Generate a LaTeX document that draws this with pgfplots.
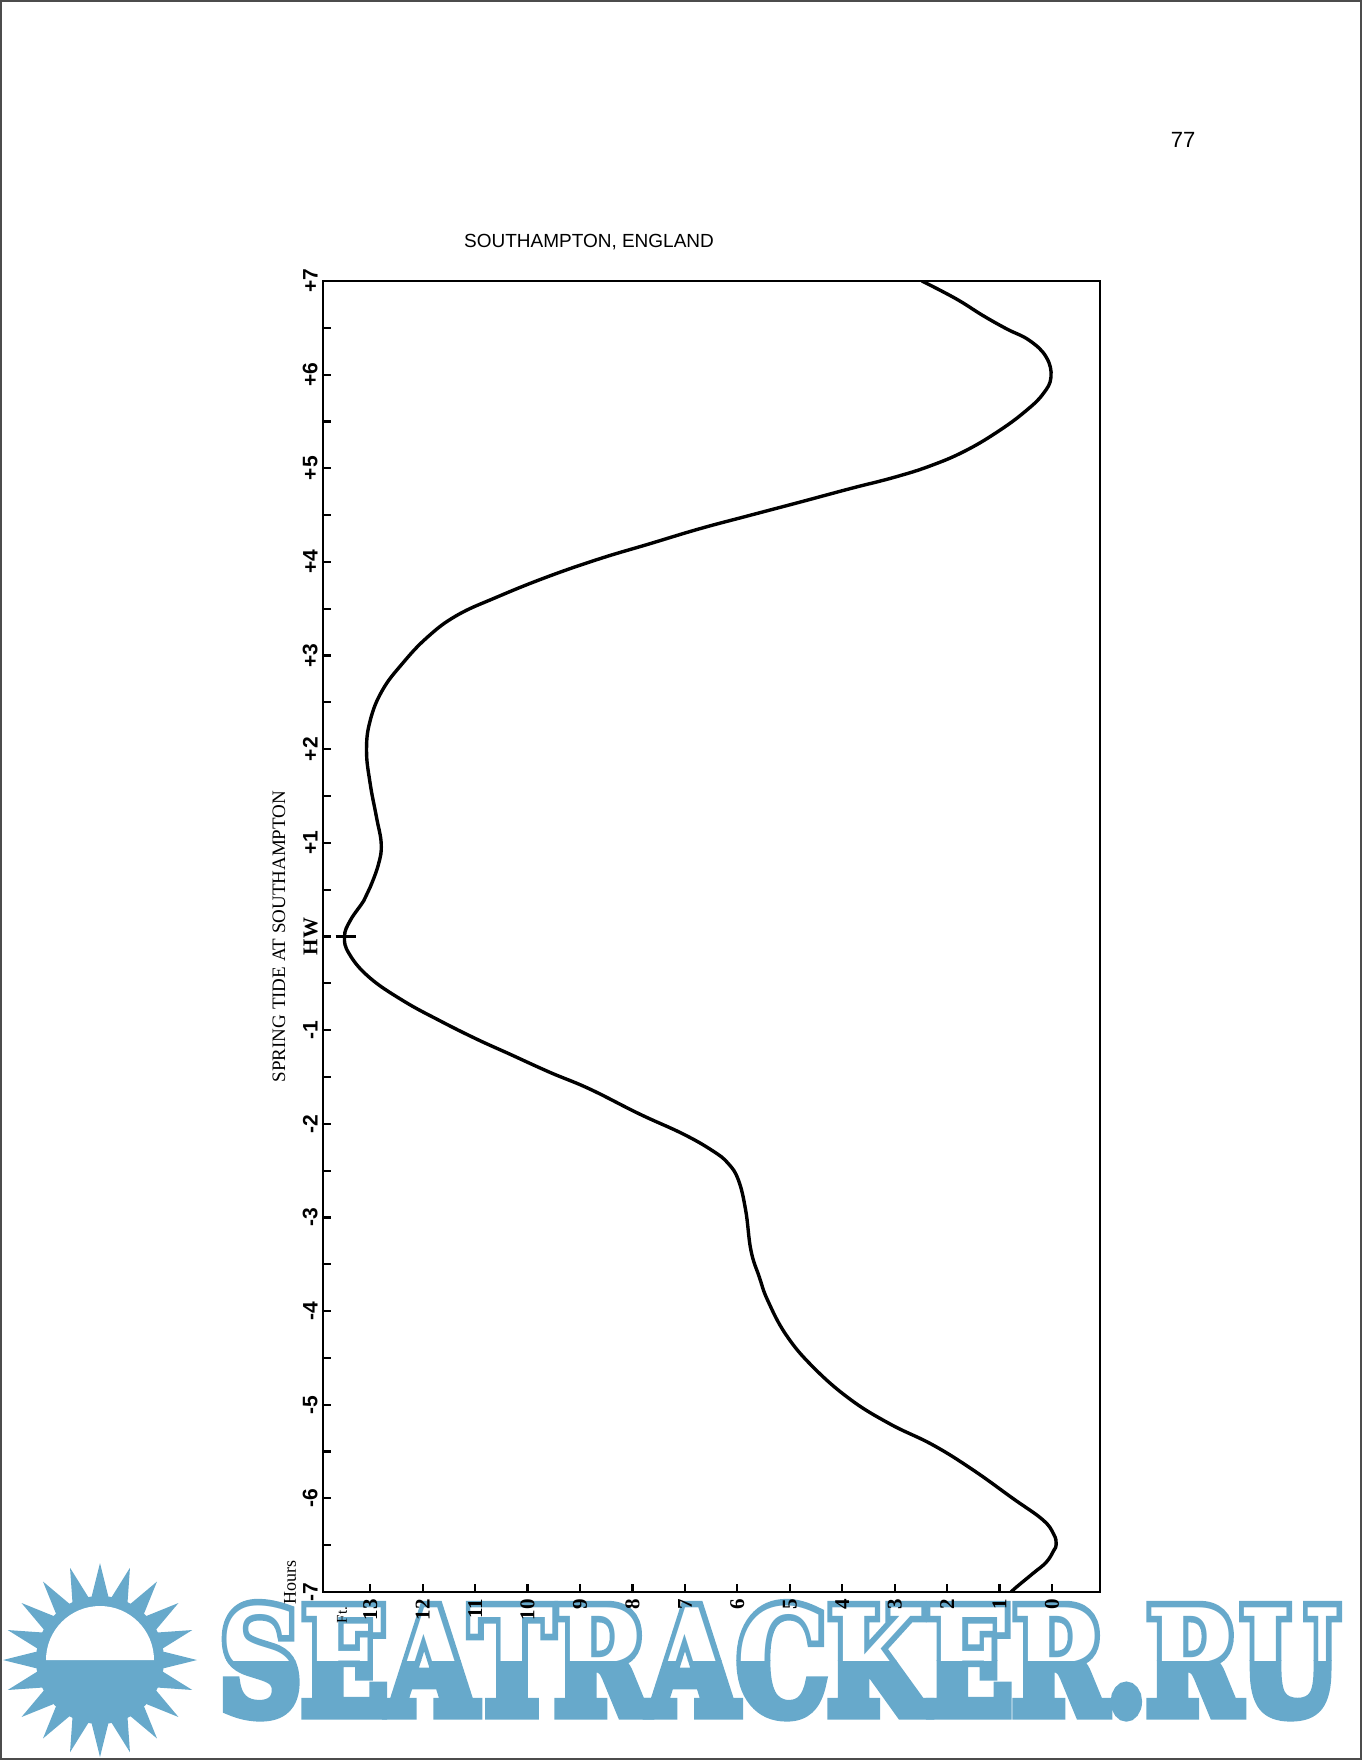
\documentclass[border=0pt]{standalone}
\usepackage{fontspec}
\setmainfont{Liberation Serif}
\newfontfamily\arial{Liberation Sans}
\newfontfamily\wmfill{DejaVu Serif Bold}
\newfontfamily\wmline[FakeBold=9]{DejaVu Serif Bold}
\usepackage{pgfplots}
\usepackage{pgfplotstable}
\pgfplotsset{compat=1.18}
\definecolor{wmblue}{RGB}{103,169,203}

\pgfplotstableread{
h ft
-7.000 0.78
-6.948 0.68
-6.800 0.36
-6.682 0.11
-6.560 -0.03
-6.490 -0.08
-6.380 -0.03
-6.227 0.18
-5.999 0.75
-5.695 1.51
-5.430 2.27
-5.202 3.10
-4.937 3.86
-4.595 4.56
-4.254 5.07
-3.887 5.42
-3.638 5.58
-3.353 5.74
-2.926 5.84
-2.600 5.98
-2.420 6.18
-2.285 6.48
-2.107 7.04
-1.894 7.87
-1.627 8.82
-1.449 9.58
-1.253 10.35
-1.093 10.98
-0.897 11.68
-0.683 12.38
-0.435 13.02
-0.185 13.40
0.000 13.49
0.171 13.38
0.385 13.12
0.527 13.00
0.776 12.84
0.990 12.79
1.274 12.88
1.631 13.00
1.986 13.07
2.307 13.00
2.627 12.77
2.912 12.39
3.196 11.91
3.428 11.35
3.623 10.59
3.837 9.64
4.033 8.63
4.194 7.67
4.354 6.72
4.496 5.77
4.638 4.81
4.781 3.86
4.905 3.00
5.030 2.30
5.190 1.64
5.404 1.00
5.617 0.49
5.795 0.17
5.973 0.02
6.187 0.11
6.365 0.43
6.490 0.87
6.632 1.32
6.810 1.83
7.000 2.48
}\tide

\begin{document}
\begin{tikzpicture}
\useasboundingbox (0,0) rectangle (681pt,-880pt);
% page frame
\draw[line width=1pt, black!70] (0.5pt,-0.5pt) rectangle (680.5pt,-879.5pt);

% watermark: sun
\fill[wmblue, shift={(50pt,-830pt)}] (0:48.5pt)
  \foreach \k in {0,...,19} { -- ({\k*18+9}:30pt) -- ({(\k+1)*18}:48.5pt) } -- cycle;
\fill[wmblue, shift={(50pt,-830pt)}] (0,0) circle (32pt);
\fill[white, shift={(50pt,-830pt)}] (-27pt,0) arc (180:0:27pt) -- cycle;
% watermark: text, lower half filled
\begin{scope}
\clip (0,-830pt) rectangle (681pt,-880pt);
\node[anchor=base west, inner sep=0pt, xscale=0.783, text=wmblue] at (109.5pt,-856.5pt)
  {\fontsize{72.5pt}{72.5pt}\wmline SEATRACKER.RU};
\end{scope}
% upper half outlined
\begin{scope}
\clip (0,-780pt) rectangle (681pt,-830pt);
\node[anchor=base west, inner sep=0pt, xscale=0.783, text=wmblue] at (109.5pt,-856.5pt)
  {\fontsize{72.5pt}{72.5pt}\wmline SEATRACKER.RU};
\node[anchor=base west, inner sep=0pt, xscale=0.783, text=white] at (109.5pt,-856.5pt)
  {\fontsize{72.5pt}{72.5pt}\wmfill SEATRACKER.RU};
\end{scope}

\begin{axis}[
  at={(161.5pt,-796pt)}, anchor=south west,
  scale only axis, width=388.5pt, height=655.5pt,
  xmin=-0.915, xmax=13.9, x dir=reverse,
  ymin=-7, ymax=7,
  axis line style={line width=1.3pt},
  xtick={0,...,13},
  xticklabels={0,1,2,3,4,5,6,7,8,9,10,11,12,13},
  xticklabel style={rotate=90, anchor=east, font=\fontsize{10.5}{10.5}\selectfont\bfseries},
  ytick={-7,...,7},
  yticklabels={-7,-6,-5,-4,-3,-2,-1,{\rmfamily HW},+1,+2,+3,+4,+5,+6,+7},
  yticklabel style={rotate=90, anchor=south, inner sep=2.5pt, font=\fontsize{10.5}{10.5}\selectfont\arial\bfseries},
  minor y tick num=1,
  tick align=inside,
  xtick pos=bottom, ytick pos=left,
  major tick length=4pt, minor tick length=4pt,
  every tick/.style={black, line width=1.1pt},
  ylabel={SPRING TIDE AT SOUTHAMPTON},
  ylabel style={at={(axis description cs:-0.0566,0.5)}, anchor=center, font=\fontsize{9.5}{9.5}\selectfont},
]
\addplot[black, line width=1.7pt, smooth, tension=0.7] table[x=ft, y=h] {\tide};
\addplot[black, line width=1.1pt] coordinates {(13.66,0) (13.28,0)};
\end{axis}

\node[font=\arial\fontsize{9.5}{9.5}\selectfont] at (294.5pt,-121pt) {SOUTHAMPTON, ENGLAND};
\node[font=\arial\fontsize{11}{11}\selectfont] at (591.5pt,-70pt) {77};
\node[rotate=90, font=\fontsize{9}{9}\selectfont, inner sep=0pt] at (145pt,-791pt) {Hours};
\node[rotate=90, font=\fontsize{7.5}{7.5}\selectfont, inner sep=0pt] at (171pt,-807.5pt) {Ft.};
\end{tikzpicture}
\end{document}
